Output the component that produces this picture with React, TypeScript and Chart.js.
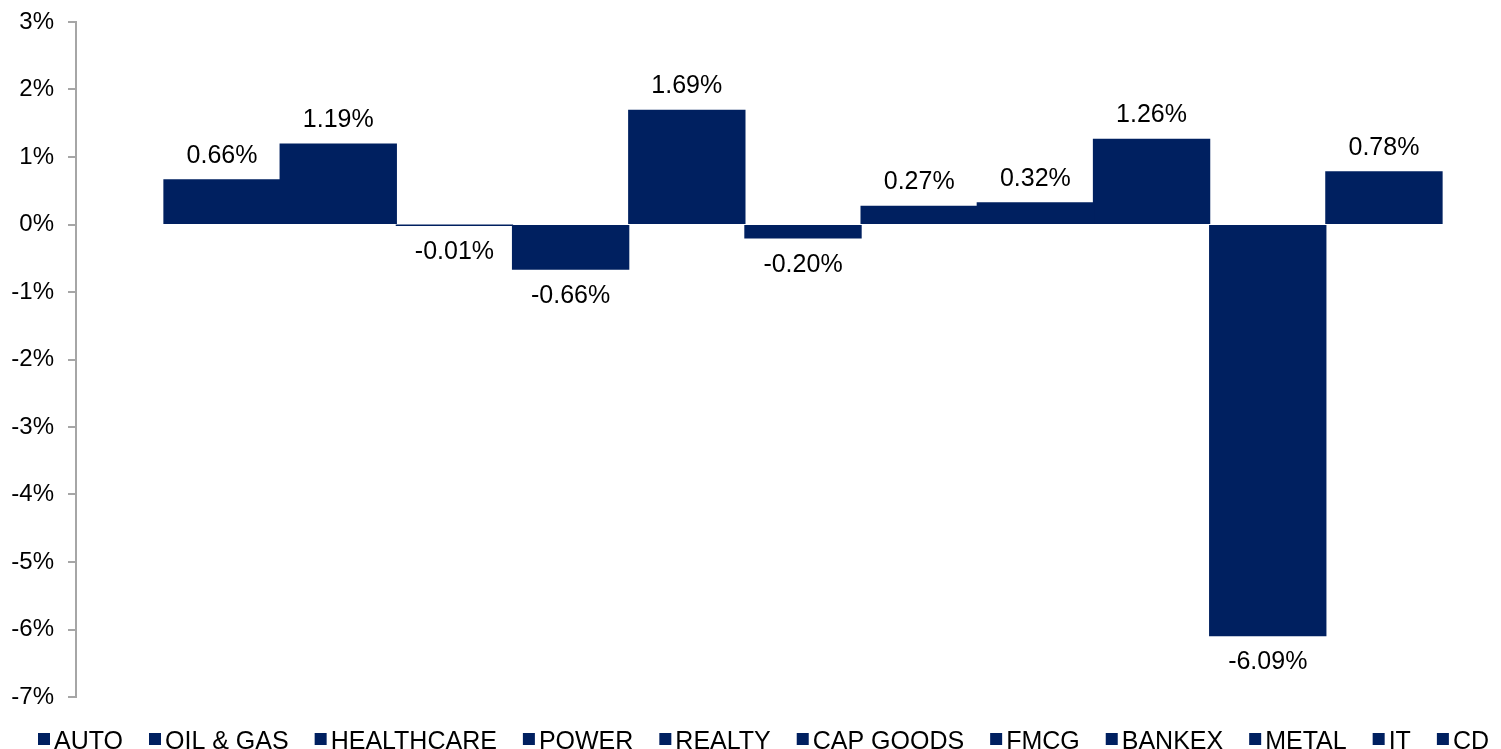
import React, { useEffect, useRef } from 'react';
import { Chart, registerables } from 'chart.js';

Chart.register(...registerables);

const categories = ['AUTO', 'OIL & GAS', 'HEALTHCARE', 'POWER', 'REALTY', 'CAP GOODS', 'FMCG', 'BANKEX', 'METAL', 'IT', 'CD'];
const values = [0.66, 1.19, -0.01, -0.66, 1.69, -0.2, 0.27, 0.32, 1.26, -6.09, 0.78];
const yTicks = [3, 2, 1, 0, -1, -2, -3, -4, -5, -6, -7];

const BAR_COLOR = '#002060';
const AXIS_COLOR = '#a6a6a6';
const FONT = '"Liberation Sans", Arial, sans-serif';

const valueLabels = {
  id: 'valueLabels',
  afterDatasetsDraw(chart: any) {
    const ctx = chart.ctx;
    ctx.save();
    ctx.font = `25px ${FONT}`;
    ctx.fillStyle = '#000';
    ctx.textAlign = 'center';
    ctx.textBaseline = 'middle';
    chart.data.datasets.forEach((ds: any, i: number) => {
      const meta = chart.getDatasetMeta(i);
      meta.data.forEach((bar: any, j: number) => {
        const v = ds.data[j];
        const { x, y, base } = bar.getProps(['x', 'y', 'base'], true);
        const top = Math.min(y, base);
        const bottom = Math.max(y, base);
        const ty = v >= 0 ? top - 24 : bottom + 27;
        ctx.fillText(v.toFixed(2) + '%', x, ty);
      });
    });
    ctx.restore();
  },
};

const bottomLegend = {
  id: 'bottomLegend',
  afterDraw(chart: any) {
    const ctx = chart.ctx;
    ctx.save();
    ctx.font = `25px ${FONT}`;
    ctx.textAlign = 'left';
    ctx.textBaseline = 'alphabetic';
    let x = 38;
    const h = chart.height;
    chart.data.datasets.forEach((ds: any) => {
      ctx.fillStyle = ds.backgroundColor;
      ctx.fillRect(x, h - 16, 12, 12);
      ctx.fillStyle = '#000';
      ctx.fillText(ds.label, x + 16, h);
      x += 16 + ctx.measureText(ds.label).width + 26;
    });
    ctx.restore();
  },
};

export default function App() {
  const canvasRef = useRef<HTMLCanvasElement | null>(null);

  useEffect(() => {
    if (!canvasRef.current) return;
    const chart = new Chart(canvasRef.current, {
      type: 'bar',
      data: {
        labels: [''],
        datasets: categories.map((c, i) => ({
          label: c,
          data: [values[i]],
          backgroundColor: BAR_COLOR,
          borderWidth: 0,
          inflateAmount: 0.6,
          barPercentage: 1,
          categoryPercentage: 0.879,
        })),
      },
      options: {
        animation: false,
        responsive: true,
        maintainAspectRatio: false,
        layout: { padding: { top: 22, right: 0, bottom: 52, left: 0 } },
        plugins: {
          legend: { display: false },
          tooltip: { enabled: false },
        },
        scales: {
          x: {
            display: false,
          },
          y: {
            min: -7,
            max: 3,
            afterBuildTicks: (s: any) => {
              s.ticks = yTicks.map((v) => ({ value: v }));
            },
            afterFit: (s: any) => {
              s.width = 76;
              s.paddingTop = 0;
              s.paddingBottom = 0;
            },
            ticks: {
              padding: 14,
              color: '#000',
              font: { size: 24, family: FONT },
              callback: (v: any) => v + '%',
            },
            grid: {
              drawOnChartArea: false,
              drawTicks: true,
              tickLength: 8,
              color: AXIS_COLOR,
              lineWidth: 2,
            },
            border: { display: true, color: AXIS_COLOR, width: 2 },
          },
        },
      } as any,
      plugins: [valueLabels, bottomLegend],
    });
    return () => chart.destroy();
  }, []);

  return (
    <div style={{ position: 'absolute', left: 0, top: 0, width: 1501, height: 749, overflow: 'hidden' }}>
      <div style={{ position: 'relative', width: 1530, height: 749 }}>
        <canvas ref={canvasRef} />
      </div>
    </div>
  );
}
